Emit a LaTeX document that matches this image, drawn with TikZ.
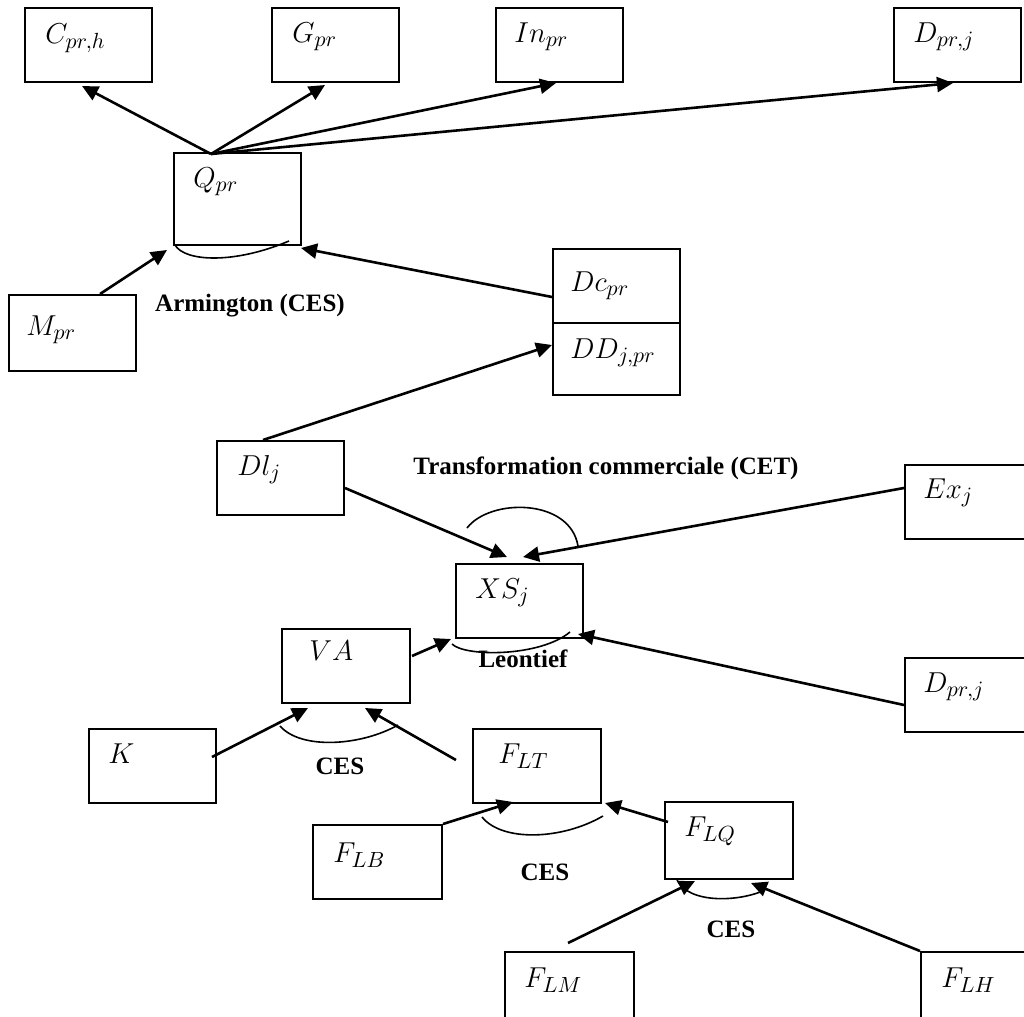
\documentclass[tikz,border=0pt]{standalone}
\usepackage{fontspec}
\setmainfont{Liberation Serif}
\DeclareMathSizes{13.5}{13.5}{11}{9}
\usetikzlibrary{arrows.meta,calc}
\begin{document}
\begin{tikzpicture}[x=0.5pt,y=-0.5pt,
  box/.style={draw,line width=1pt,inner sep=0pt,anchor=north west,minimum width=63.5pt,minimum height=37pt},
  mlbl/.style={anchor=base west,inner sep=0pt,font=\fontsize{13.5}{15}\selectfont},
  blbl/.style={inner sep=0pt,font=\fontsize{12.5}{14}\selectfont\bfseries},
  arr/.style={line width=1.3pt,-{Triangle[length=8pt,width=7.5pt]}},
  arcl/.style={line width=0.8pt}]
\useasboundingbox (0,0) rectangle (1024,1017);
\clip (0,0) rectangle (1024,1017);
% boxes
\node[box] (C) at (24,7) {};
\node[box] (G) at (271,7) {};
\node[box] (In) at (495,7) {};
\node[box] (Dt) at (893,7) {};
\node[box,minimum height=46pt] (Q) at (173,152) {};
\node[box,minimum height=38pt] (M) at (8,294) {};
\node[box] (Dc) at (552,248) {};
\node[box,minimum height=36pt] (DD) at (552,322) {};
\node[box] (Dl) at (216,440) {};
\node[box] (Ex) at (904,464) {};
\node[box] (XS) at (455,563) {};
\node[box,minimum width=64pt] (VA) at (281,628) {};
\node[box] (Db) at (904,657) {};
\node[box] (K) at (88,728) {};
\node[box,minimum width=64pt] (FLT) at (472,728) {};
\node[box,minimum width=64.5pt] (FLB) at (312,824) {};
\node[box,minimum width=64pt,minimum height=38.5pt] (FLQ) at (664,801) {};
\node[box,minimum width=64.5pt] (FLM) at (504,951) {};
\node[box] (FLH) at (920,951) {};
% box texts
\node[mlbl] (Ct) at ($(C.north west)+(21,36)$) {$C_{pr,h}$};
\node[mlbl] (Gt) at ($(G.north west)+(21,35)$) {$G_{pr}$};
\node[mlbl] (Int) at ($(In.north west)+(19,35)$) {$In_{pr}$};
\node[mlbl] (Dtt) at ($(Dt.north west)+(20,35)$) {$D_{pr,j}$};
\node[mlbl] (Qt) at ($(Q.north west)+(20,35)$) {$Q_{pr}$};
\node[mlbl] (Mt) at ($(M.north west)+(18,41)$) {$M_{pr}$};
\node[mlbl] (Dct) at ($(Dc.north west)+(18,43)$) {$Dc_{pr}$};
\node[mlbl] (DDt) at ($(DD.north west)+(18,36)$) {$DD_{j,pr}$};
\node[mlbl] (Dlt) at ($(Dl.north west)+(21,35)$) {$Dl_j$};
\node[mlbl] (Ext) at ($(Ex.north west)+(19,34)$) {$Ex_j$};
\node[mlbl] (XSt) at ($(XS.north west)+(20,35)$) {$XS_j$};
\node[mlbl] (VAt) at ($(VA.north west)+(28,32)$) {$VA$};
\node[mlbl] (Dbt) at ($(Db.north west)+(19,35)$) {$D_{pr,j}$};
\node[mlbl] (Kt) at ($(K.north west)+(20,35)$) {$K$};
\node[mlbl] (FLTt) at ($(FLT.north west)+(26,35)$) {$F_{LT}$};
\node[mlbl] (FLBt) at ($(FLB.north west)+(21,38)$) {$F_{LB}$};
\node[mlbl] (FLQt) at ($(FLQ.north west)+(20,35)$) {$F_{LQ}$};
\node[mlbl] (FLMt) at ($(FLM.north west)+(20,36)$) {$F_{LM}$};
\node[mlbl] (FLHt) at ($(FLH.north west)+(21,36)$) {$F_{LH}$};
% bold labels
\node[blbl] (arm) at (250,306) {Armington (CES)};
\node[blbl] (cet) at (606,468) {Transformation commerciale (CET)};
\node[blbl] (leo) at (523,659) {Leontief};
\node[blbl] (ces1) at (340,766) {CES};
\node[blbl] (ces2) at (545,872) {CES};
\node[blbl] (ces3) at (731,929) {CES};
% apex on Q
\coordinate (qa) at ($(Q.north west)+(38,2)$);
\draw[arr] (qa) -- ($(C.south west)+(58,3)$);
\draw[arr] (qa) -- ($(G.south west)+(54,2)$);
\draw[arr] (qa) -- ($(In.south west)+(61,0)$);
\draw[arr] (qa) -- ($(Dt.south west)+(60,0)$);
% into Q
\draw[arr] ($(M.north west)+(92,0)$) -- ($(Q.south west)+(-6,4)$);
\draw[arr] ($(Dc.west)+(0,11)$) -- ($(Q.south east)+(-1,2)$);
% Dl to DD
\draw[arr] ($(Dl.north west)+(47,0)$) -- ($(DD.north west)+(0,23)$);
% into XS
\draw[arr] ($(Dl.north east)+(0,48)$) -- ($(XS.north west)+(52,-6)$);
\draw[arr] ($(Ex.north west)+(0,24)$) -- ($(XS.north west)+(68,-6)$);
\draw[arr] ($(VA.north east)+(1,28)$) -- ($(XS.south west)+(-4,0)$);
\draw[arr] ($(Db.north west)+(0,48)$) -- ($(XS.south east)+(-6,-5)$);
% into VA
\draw[arr] ($(K.north east)+(-5,29)$) -- ($(VA.south west)+(27,4)$);
\draw[arr] ($(FLT.north west)+(-16,32)$) -- ($(VA.south west)+(84,4)$);
% into FLT
\draw[arr] (FLB.north east) -- ($(FLT.south west)+(41,-2)$);
\draw[arr] ($(FLQ.north west)+(4,21)$) -- ($(FLT.south east)+(3,-1)$);
% into FLQ
\draw[arr] ($(FLM.north west)+(64,-8)$) -- ($(FLQ.south west)+(31,1)$);
\draw[arr] (FLH.north west) -- ($(FLQ.south west)+(87,3)$);
% arcs
\draw[arcl] ($(Q.south west)+(2,-1)$) .. controls ($(Q.south west)+(12,16)$) and ($(Q.south west)+(62,18)$) .. ($(Q.south west)+(116,-5)$);
\draw[arcl] ($(XS.north west)+(12,-35)$) .. controls ($(XS.north west)+(35,-65)$) and ($(XS.north west)+(115,-65)$) .. ($(XS.north west)+(123,-17)$);
\draw[arcl] ($(XS.south west)+(-3,5)$) .. controls ($(XS.south west)+(10,18)$) and ($(XS.south west)+(85,18)$) .. ($(XS.south west)+(115,-7)$);
\draw[arcl] ($(VA.south west)+(-1,22)$) .. controls ($(VA.south west)+(20,46)$) and ($(VA.south west)+(80,42)$) .. ($(VA.south west)+(117,21)$);
\draw[arcl] ($(FLT.south west)+(10,13)$) .. controls ($(FLT.south west)+(30,38)$) and ($(FLT.south west)+(90,36)$) .. ($(FLT.south west)+(131,12)$);
\draw[arcl] ($(FLQ.south west)+(13,0)$) .. controls ($(FLQ.south west)+(25,24)$) and ($(FLQ.south west)+(75,22)$) .. ($(FLQ.south west)+(101,10)$);
\end{tikzpicture}
\end{document}
